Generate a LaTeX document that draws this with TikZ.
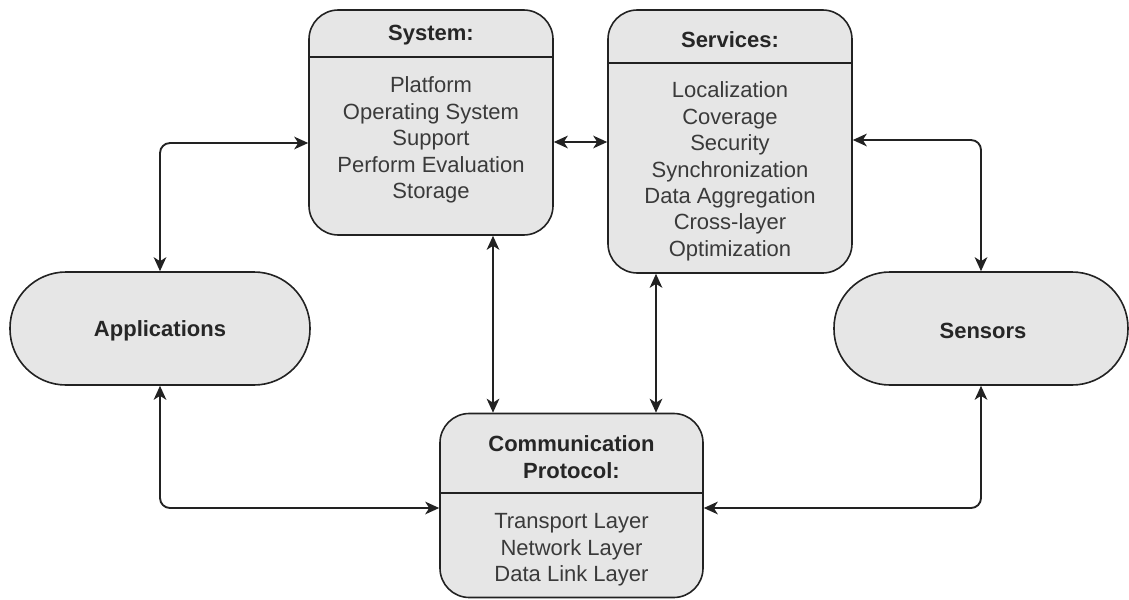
\documentclass[tikz,border=0pt]{standalone}
\usepackage{fontspec}
\setmainfont{Liberation Sans}
\usetikzlibrary{arrows.meta,calc}
\definecolor{boxfill}{HTML}{E6E6E6}
\definecolor{boxline}{HTML}{222222}
\definecolor{bodytext}{HTML}{3A3A3A}
\definecolor{headtext}{HTML}{262626}
\begin{document}
\begin{tikzpicture}[x=0.75pt,y=-0.75pt,
  box/.style={draw=boxline, fill=boxfill, line width=1.2pt, rectangle,
    inner sep=0pt, rounded corners=22pt},
  pill/.style={box, rounded corners=42pt},
  headtxt/.style={text=headtext, align=center,
    font=\fontsize{16.5}{19.8}\selectfont\bfseries},
  bodytxt/.style={text=bodytext, align=center,
    font=\fontsize{16.5}{19.8}\selectfont},
  rule/.style={draw=boxline, line width=1.2pt},
  tip/.style={Stealth[length=10.5pt,width=9.5pt,inset=3pt]},
  conn/.style={draw=boxline, line width=1.4pt, rounded corners=7.5pt,
    {Stealth[length=10.5pt,width=9.5pt,inset=3pt]}-{Stealth[length=10.5pt,width=9.5pt,inset=3pt]}}]

\useasboundingbox (0,0) rectangle (1129,600);

% boxes
\node[box, minimum width=183pt, minimum height=168.75pt] (sys) at (431,122.5) {};
\node[box, minimum width=183pt, minimum height=197.25pt] (srv) at (730,141.5) {};
\node[box, minimum width=197.25pt, minimum height=138pt] (com) at (571.5,505.5) {};
\node[pill, minimum width=225pt, minimum height=84.75pt] (app) at (160,328.5) {};
\node[pill, minimum width=220.5pt, minimum height=84.75pt] (sen) at (981,328.5) {};

% header separators
\draw[rule] (sys.west |- 0,57) -- (sys.east |- 0,57);
\draw[rule] (srv.west |- 0,63) -- (srv.east |- 0,63);
\draw[rule] (com.west |- 0,493) -- (com.east |- 0,493);

% texts
\node[headtxt] (sysHead) at (431,35) {System:};
\node[bodytxt] (sysBody) at (431,140) {Platform\\Operating System\\Support\\Perform Evaluation\\Storage};
\node[headtxt] (srvHead) at (730,40) {Services:};
\node[bodytxt] (srvBody) at (730,171.5) {Localization\\Coverage\\Security\\Synchronization\\Data Aggregation\\Cross-layer\\Optimization};
\node[headtxt] (comHead) at (571.5,457) {Communication\\Protocol:};
\node[bodytxt] (comBody) at (571.5,550) {Transport Layer\\Network Layer\\Data Link Layer};
\node[headtxt] (appText) at ($(app.center)+(0,2.5)$) {Applications};
\node[headtxt] (senText) at ($(sen.center)+(2,2)$) {Sensors};

% connectors
\draw[conn] (app.north) |- (sys.west |- 0,143);
\draw[conn] (sys.east |- 0,142) -- (srv.west |- 0,142);
\draw[conn] (sys.south -| 493,0) -- (com.north -| 493,0);
\draw[conn] (srv.south -| 656,0) -- (com.north -| 656,0);
\draw[conn] (srv.east |- 0,140) -| (sen.north);
\draw[conn] (app.south) |- (com.west |- 0,508);
\draw[conn] (sen.south) |- (com.east |- 0,508);
\end{tikzpicture}
\end{document}
